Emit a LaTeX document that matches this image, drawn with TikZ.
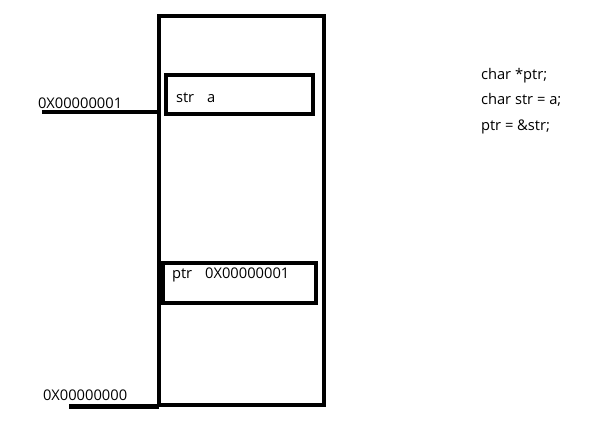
\documentclass[tikz,border=0pt]{standalone}
\usepackage{fontspec}
\setmainfont{Open Sans}
\usetikzlibrary{positioning}

\begin{document}
\begin{tikzpicture}[x=1pt,y=-1pt]
\useasboundingbox (0,0) rectangle (607,432);
            \begin{scope}[%
                every node/.style={inner sep=0,
                outer sep=0,
                font=\fontsize{14.7}{25.5}\selectfont,
            },
            box/.style={draw, rectangle, line width=4.5pt},
            wire/.style={line width=4.5pt}]
    \node (mem)[box, minimum width=165pt, minimum height=389pt] at (241.5,210.5) {};
    \node (strbox)[box, minimum width=147pt, minimum height=39pt] at (239.5,94.5) {};
    \node (ptrbox)[box, minimum width=153pt, minimum height=40pt] at (239.5,283) {};

    \node (strtxt)[anchor=base west] at (176,102) {str\hspace{13pt}a};
    \node (ptrtxt)[anchor=base west] at (172,278) {ptr\hspace{13pt}0X00000001};

    \node (addrone)[anchor=base west] at (38,108) {0X00000001};
    \node (addrzero)[anchor=base west] at (43,400) {0X00000000};
    \coordinate (one) at (42,112);
    \coordinate (zero) at (69,406.5);

    \node (code)[anchor=base west, align=left] at (481,130) {char *ptr;\\char str = a;\\ptr = \&str;};

    \draw[wire] (one) -- (one -| mem.west);
    \draw[wire] (zero) -- (zero -| mem.west);
  \end{scope}
\end{tikzpicture}
\end{document}
